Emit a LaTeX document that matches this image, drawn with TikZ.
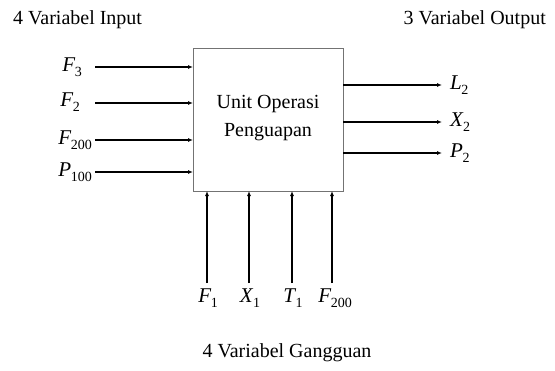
\documentclass[tikz,border=0pt]{standalone}
\usepackage{fontspec}
\setmainfont{Liberation Serif}
\usetikzlibrary{arrows.meta}
\newcommand\vsub[2]{\textit{#1}\kern-0.5pt\raisebox{-5pt}{\fontsize{14}{14}\selectfont #2}}
\begin{document}
\begin{tikzpicture}[x=1pt,y=-1pt,
  lbl/.style={inner sep=0pt, font=\fontsize{20}{28}\selectfont},
  var/.style={inner sep=0pt, font=\fontsize{21}{24}\selectfont},
  flow/.style={line width=1.6pt, -{Latex[length=5pt,width=4pt]}},
  unit/.style={draw=black!55, line width=0.8pt, fill=white}]
\useasboundingbox (0,0) rectangle (555,370);
\node[unit, minimum width=150pt, minimum height=143pt, anchor=north west] (box) at (193,48) {};
\node[lbl, align=center] (txt) at (268,118) {Unit Operasi\\Penguapan};
\node[lbl, anchor=west] (tin) at (13,20) {4 Variabel Input};
\node[lbl, anchor=east] (tout) at (546,20) {3 Variabel Output};
\node[lbl] (tg) at (287,353) {4 Variabel Gangguan};
% inputs
\node[var, anchor=east] (i1) at (82,67) {\vsub{F}{3}};
\node[var, anchor=east] (i2) at (80,102) {\vsub{F}{2}};
\node[var, anchor=east] (i3) at (92,140) {\vsub{F}{200}};
\node[var, anchor=east] (i4) at (92,172) {\vsub{P}{100}};
\foreach \i/\y in {1/67,2/103,3/140,4/172}{
  \coordinate (s\i) at (95,\y);
  \coordinate (e\i) at (193,\y);
  \draw[flow] (s\i) -- (e\i);
}
% outputs
\foreach \i/\y/\t in {1/85/{\vsub{L}{2}},2/122/{\vsub{X}{2}},3/153/{\vsub{P}{2}}}{
  \coordinate (os\i) at (343,\y);
  \coordinate (oe\i) at (442,\y);
  \node[var, anchor=west] (o\i) at (450,\y) {\t};
  \draw[flow] (os\i) -- (oe\i);
}
% disturbances
\foreach \i/\x/\t in {1/207/{\vsub{F}{1}},2/249/{\vsub{X}{1}},3/292/{\vsub{T}{1}},4/332/{\vsub{F}{200}}}{
  \coordinate (ds\i) at (\x,283);
  \coordinate (de\i) at (\x,191);
  \draw[flow] (ds\i) -- (de\i);
}
\node[var] (d1) at (208,298) {\vsub{F}{1}};
\node[var] (d2) at (250,298) {\vsub{X}{1}};
\node[var] (d3) at (293,298) {\vsub{T}{1}};
\node[var] (d4) at (335,298) {\vsub{F}{200}};
\end{tikzpicture}
\end{document}
